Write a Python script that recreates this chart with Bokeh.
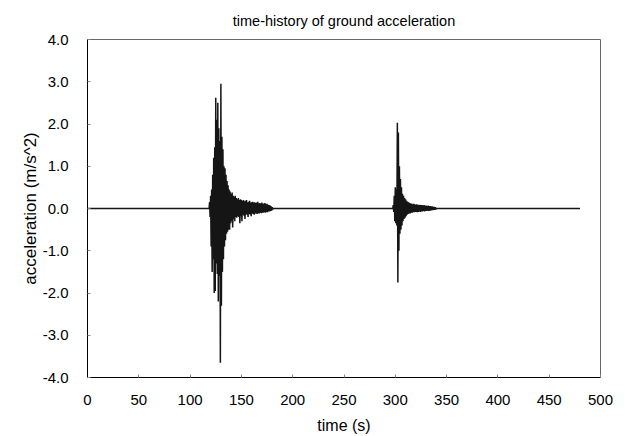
from bokeh.plotting import figure
from bokeh.models import Range1d, FixedTicker, ColumnDataSource
from bokeh.embed import file_html
from bokeh.resources import INLINE

# ---- data ----
# event 1: per-second upward / downward peaks, seconds 119..180
ev1_start = 119
ev1_up = [0.15, 0.3, 0.45, 0.8, 1.2, 1.45, 2.62, 2.1, 2.5, 1.9, 1.6, 2.95,
          1.7, 1.4, 1.0, 0.95, 0.8, 0.65, 0.55, 0.45, 0.4, 0.35, 0.38, 0.3,
          0.28, 0.3, 0.25, 0.22, 0.25, 0.2, 0.22, 0.2, 0.18, 0.2, 0.17, 0.18,
          0.2, 0.15, 0.16, 0.18, 0.14, 0.15, 0.16, 0.14, 0.15, 0.13, 0.14,
          0.16, 0.12, 0.13, 0.12, 0.14, 0.11, 0.12, 0.13, 0.1, 0.11, 0.09,
          0.08, 0.07, 0.05, 0.03]
ev1_down = [-0.2, -0.9, -1.5, -1.2, -2.0, -1.95, -1.3, -1.55, -2.2, -1.6,
            -3.65, -2.3, -1.5, -1.2, -0.9, -0.75, -0.6, -0.55, -0.5, -0.5,
            -0.35, -0.3, -0.45, -0.25, -0.3, -0.2, -0.22, -0.18, -0.2, -0.35,
            -0.18, -0.3, -0.15, -0.17, -0.25, -0.14, -0.15, -0.2, -0.13,
            -0.14, -0.18, -0.12, -0.13, -0.15, -0.12, -0.12, -0.13, -0.11,
            -0.12, -0.1, -0.11, -0.1, -0.1, -0.09, -0.1, -0.08, -0.09, -0.07,
            -0.07, -0.06, -0.05, -0.02]

# event 2: per-second upward / downward peaks, seconds 298..339
ev2_start = 298
ev2_up = [0.08, 0.3, 0.5, 0.45, 2.03, 1.8, 1.0, 0.7, 0.5, 0.35, 0.3, 0.25,
          0.22, 0.18, 0.16, 0.15, 0.13, 0.12, 0.12, 0.1, 0.11, 0.1, 0.09,
          0.1, 0.09, 0.08, 0.09, 0.08, 0.08, 0.07, 0.08, 0.07, 0.07, 0.06,
          0.07, 0.06, 0.06, 0.05, 0.05, 0.04, 0.04, 0.03]
ev2_down = [-0.08, -0.3, -0.35, -0.4, -1.75, -1.0, -0.6, -0.5, -0.4, -0.3,
            -0.25, -0.22, -0.18, -0.15, -0.13, -0.12, -0.12, -0.1, -0.1,
            -0.09, -0.09, -0.08, -0.08, -0.09, -0.08, -0.07, -0.08, -0.07,
            -0.07, -0.06, -0.07, -0.06, -0.06, -0.05, -0.06, -0.05, -0.05,
            -0.04, -0.04, -0.03, -0.03, -0.02]

record_end = 480

x_ticks = [0, 50, 100, 150, 200, 250, 300, 350, 400, 450, 500]
y_ticks = [-4.0, -3.0, -2.0, -1.0, 0.0, 1.0, 2.0, 3.0, 4.0]


def event_series(start, up, down):
    t, a = [start - 0.5], [0.0]
    for i, (u, d) in enumerate(zip(up, down)):
        t += [start + i, start + i + 0.5]
        a += [u, d]
    t.append(start + len(up))
    a.append(0.0)
    return t, a


t1, a1 = event_series(ev1_start, ev1_up, ev1_down)
t2, a2 = event_series(ev2_start, ev2_up, ev2_down)
t = [0] + t1 + t2 + [record_end]
a = [0.0] + a1 + a2 + [0.0]

src = ColumnDataSource(dict(t=t, a=a))

FONT = "Liberation Sans"

p = figure(width=625, height=436, output_backend="svg", toolbar_location=None,
           x_range=Range1d(0, 500), y_range=Range1d(-4, 4),
           title="time-history of ground acceleration",
           min_border_left=87, min_border_right=25,
           min_border_top=39, min_border_bottom=59)

p.line("t", "a", source=src, line_color="#151515", line_width=1.5)

p.title.align = "center"
p.title.text_font = FONT
p.title.text_font_size = "14.5px"
p.title.text_font_style = "normal"
p.title.text_color = "#000000"
p.title.standoff = 21

p.grid.visible = False
p.outline_line_color = "#666666"
p.outline_line_width = 1

for ax in (p.xaxis[0], p.yaxis[0]):
    ax.major_label_text_font = FONT
    ax.major_label_text_font_size = "15px"
    ax.major_label_text_color = "#000000"
    ax.axis_label_text_font = FONT
    ax.axis_label_text_font_style = "normal"
    ax.axis_label_text_color = "#000000"
    ax.axis_line_color = "#000000"
    ax.axis_line_width = 1
    ax.major_tick_in = 3
    ax.major_tick_out = 0
    ax.major_tick_line_color = "#888888"
    ax.minor_tick_line_color = None

p.xaxis.ticker = FixedTicker(ticks=x_ticks)
p.yaxis.ticker = FixedTicker(ticks=y_ticks)
p.yaxis.major_label_overrides = {v: f"{v:.1f}" for v in y_ticks}
p.xaxis.axis_label = "time (s)"
p.yaxis.axis_label = "acceleration (m/s^2)"
p.xaxis.axis_label_text_font_size = "16px"
p.yaxis.axis_label_text_font_size = "17px"
p.xaxis.major_label_standoff = 17
p.xaxis.axis_label_standoff = 9
p.yaxis.major_label_standoff = 19
p.yaxis.axis_label_standoff = 0

open("out.html", "w").write(file_html(p, INLINE))
